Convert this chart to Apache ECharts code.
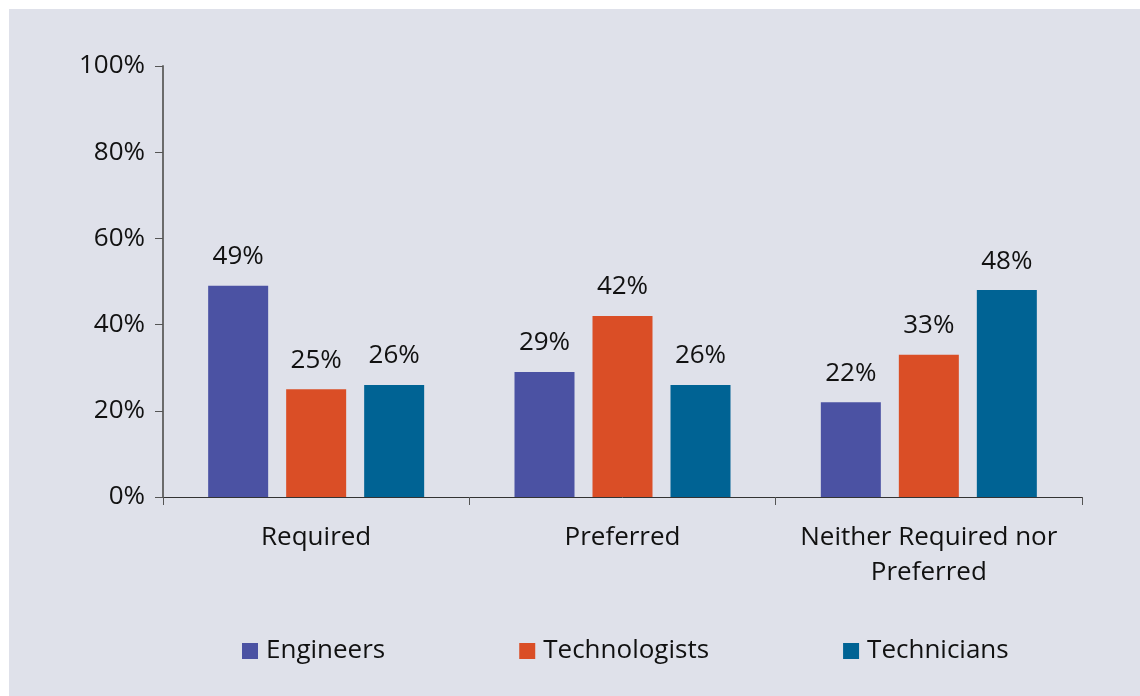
<!DOCTYPE html>
<html><head><meta charset="utf-8">
<script src="https://cdn.jsdelivr.net/npm/echarts@6/dist/echarts.min.js"></script>
<style>html,body{margin:0;padding:0;background:#fff}#c{width:1140px;height:696px}</style>
</head><body><div id="c"></div>
<script>
const categories = ['Required', 'Preferred', 'Neither Required nor\nPreferred'];
const engineers = [49, 29, 22];
const technologists = [25, 42, 33];
const technicians = [26, 26, 48];
const yTicks = [0, 20, 40, 60, 80, 100];

const FONT = 'Open Sans';
const FS = 26;
const chart = echarts.init(document.getElementById('c'));
const lbl = {show: true, position: 'top', distance: 16, formatter: '{c}%', fontFamily: FONT, fontSize: FS, color: '#111'};
chart.setOption({
  backgroundColor: '#ffffff',
  animation: false,
  graphic: [{type: 'rect', shape: {x: 9, y: 9, width: 1131, height: 687}, style: {fill: '#dfe1ea'}, z: -10, silent: true}],
  grid: {left: 163, right: 58, top: 66, bottom: 199},
  legend: {
    top: 633, left: 237, itemWidth: 16, itemHeight: 16, itemGap: 134, icon: 'rect',
    textStyle: {fontFamily: FONT, fontSize: FS, color: '#111', padding: [0, 0, 0, 3]},
    data: ['Engineers', 'Technologists', 'Technicians']
  },
  xAxis: {
    type: 'category', data: categories,
    axisLine: {lineStyle: {color: '#333', width: 1}},
    axisTick: {show: true, length: 8, lineStyle: {color: '#555'}},
    axisLabel: {interval: 0, fontFamily: FONT, fontSize: FS, color: '#111', margin: 23, lineHeight: 35}
  },
  yAxis: {
    type: 'value', min: 0, max: 100, interval: 20,
    axisLine: {show: true, lineStyle: {color: '#6b6b6b', width: 2}},
    axisTick: {show: true, length: 8, lineStyle: {color: '#555'}},
    splitLine: {show: false},
    axisLabel: {fontFamily: FONT, fontSize: FS, color: '#111', margin: 18,
      formatter: v => yTicks.includes(v) ? v + '%' : ''}
  },
  series: [
    {name: 'Engineers', type: 'bar', data: engineers, barWidth: 60, barGap: '30%', itemStyle: {color: '#4b52a3'}, label: lbl},
    {name: 'Technologists', type: 'bar', data: technologists, barWidth: 60, barGap: '30%', itemStyle: {color: '#da4e26'}, label: lbl},
    {name: 'Technicians', type: 'bar', data: technicians, barWidth: 60, barGap: '30%', itemStyle: {color: '#006394'}, label: lbl}
  ]
});
</script></body></html>
